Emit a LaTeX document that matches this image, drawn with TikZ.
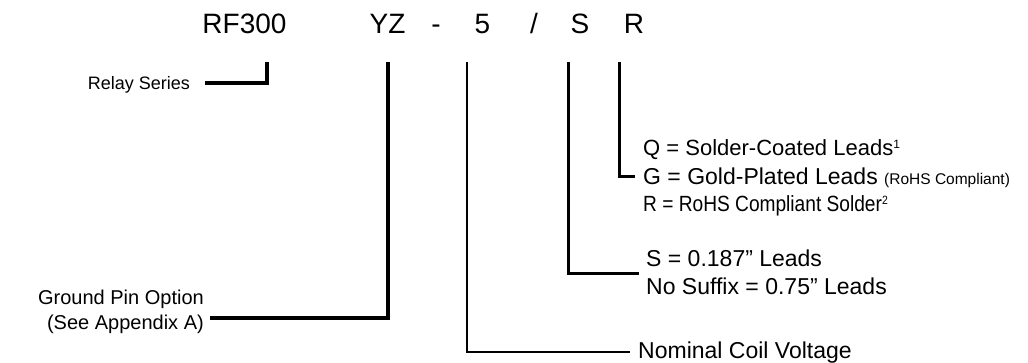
\documentclass[tikz,border=0pt]{standalone}
\usepackage{fontspec}
\setmainfont{Liberation Sans}
\newcommand\codefont{\fontsize{28}{34}\selectfont}
\newcommand\labfont{\fontsize{23}{28}\selectfont}
\newcommand\leftfont{\fontsize{20}{24}\selectfont}
\newcommand\relayfont{\fontsize{18}{22}\selectfont}
\newcommand\optfont{\fontsize{22}{26}\selectfont}
\newcommand\gfont{\fontsize{23}{27}\selectfont}
\newcommand\smallopt{\fontsize{15.5}{18}\selectfont}
\newcommand\supfont{\fontsize{12}{14}\selectfont}
\begin{document}
\begin{tikzpicture}[x=1pt,y=-1pt,
  code/.style={inner sep=0pt,anchor=base,font=\codefont},
  lab/.style={inner sep=0pt,font=\labfont},
  thickline/.style={line width=4pt,line join=miter,line cap=butt},
  midline/.style={line width=3pt,line join=miter,line cap=butt},
  thinline/.style={line width=2.6pt,line join=miter,line cap=butt}]
\useasboundingbox[fill=white] (0,0) rectangle (1028,362);
% code row
\node[code] (rf) at (244.5,33) {RF300};
\node[code] (yz) at (387.5,33) {YZ};
\node[code] (d1) at (436,33) {-};
\node[code] (v5) at (482.5,33) {5};
\node[code] (sl) at (534,33) {/};
\node[code] (s) at (580,33) {S};
\node[code] (r) at (634,33) {R};
% labels
\node[lab,font=\relayfont,anchor=base east] (relay) at (190,89) {Relay Series};
\node[lab,font=\leftfont,anchor=base east] (gp1) at (204,304) {Ground Pin Option};
\node[lab,font=\leftfont,anchor=base east] (gp2) at (204,329) {(See Appendix A)};
\node[lab,anchor=base west] (ncv) at (638,358) {Nominal Coil Voltage};
\node[lab,anchor=base west] (s1) at (646,266) {S = 0.187” Leads};
\node[lab,anchor=base west] (s2) at (646,294) {No Suffix = 0.75” Leads};
\node[lab,font=\optfont,anchor=base west] (q) at (643,155) {Q = Solder-Coated Leads\raisebox{7pt}{\supfont 1}};
\node[lab,font=\gfont,anchor=base west] (g) at (643,184) {G = Gold-Plated Leads {\smallopt (RoHS Compliant)}};
\node[lab,font=\optfont,anchor=base west] (rr) at (643,211) {\scalebox{0.87}[1]{R = RoHS Compliant Solder\raisebox{7pt}{\supfont 2}}};
% connector coordinates
\coordinate (rfT) at (267,62);
\coordinate (rfE) at (205,83);
\coordinate (yzT) at (388,62);
\coordinate (yzE) at (210,318);
\coordinate (v5T) at (467,62);
\coordinate (v5E) at (630,352);
\coordinate (sT) at (568,62);
\coordinate (sE) at (639,273);
\coordinate (rT) at (619,62);
\coordinate (rE) at (635,176);
% connectors
\draw[thickline] (rfT) |- (rfE);
\draw[thickline] (yzT) |- (yzE);
\draw[thinline] (v5T) |- (v5E);
\draw[midline] (sT) |- (sE);
\draw[midline] (rT) |- (rE);
\end{tikzpicture}
\end{document}
